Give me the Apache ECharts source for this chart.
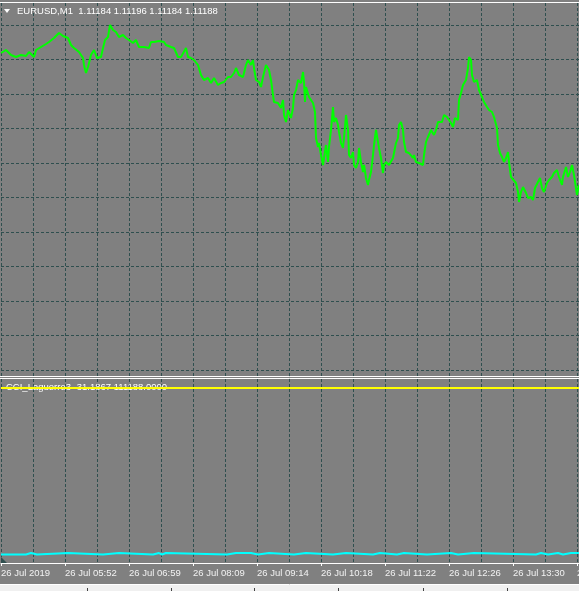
<!DOCTYPE html>
<html>
<head>
<meta charset="utf-8">
<script src="https://cdn.jsdelivr.net/npm/echarts@6/dist/echarts.min.js"></script>
<style>
html,body{margin:0;padding:0;background:#808080;}
#c{width:579px;height:591px;}
</style>
</head>
<body>
<div id="c"></div>
<script>
// ---- data (bar index from left edge, price) ----
var barIdx = [0,2,5,7,10,15,20,25,28,30,33,35,40,45,48,53,58,62,67,70,73,78,82,83,85,87,90,93,96,98,100,102,104,107,109,112,115,118,122,125,128,132,135,138,143,145,148,150,153,158,163,165,170,173,177,180,185,187,190,193,197,200,203,207,210,213,217,220,223,227,230,233,235,238,242,245,247,250,252,253,255,258,260,262,265,268,270,272,273,277,280,282,283,285,287,290,292,293,295,297,298,300,302,303,304,305,308,312,314,315,317,318,320,322,323,325,327,328,330,332,333,335,337,338,340,342,343,345,347,348,350,352,353,355,357,358,360,362,363,365,367,368,370,372,373,375,377,378,380,382,383,385,388,392,395,397,398,400,402,403,405,408,412,413,415,418,422,423,425,427,430,433,435,437,441,443,446,448,450,452,454,457,458,460,462,465,467,468,470,471,473,476,478,481,483,486,488,491,493,496,497,499,501,503,505,507,508,510,512,515,517,518,520,522,525,527,530,532,534,537,539,541,543,546,548,551,553,556,558,561,562,565,567,569,571,573,576,578];
var closePrice = [1.11338,1.11336,1.11341,1.11343,1.11336,1.11334,1.11336,1.11335,1.11339,1.11337,1.11334,1.11341,1.11344,1.11347,1.11349,1.11353,1.11358,1.11355,1.11353,1.11346,1.11343,1.11339,1.11333,1.11326,1.11318,1.11324,1.11336,1.11341,1.11333,1.11331,1.11334,1.11343,1.11351,1.11354,1.11366,1.11361,1.11359,1.11354,1.11356,1.11353,1.11351,1.11348,1.11351,1.11344,1.11344,1.11344,1.11343,1.11349,1.11349,1.11350,1.11349,1.11346,1.11344,1.11343,1.11334,1.11334,1.11343,1.11334,1.11333,1.11331,1.11326,1.11316,1.11311,1.11313,1.11308,1.11313,1.11306,1.11308,1.11309,1.11314,1.11314,1.11318,1.11323,1.11316,1.11314,1.11326,1.11331,1.11326,1.11331,1.11323,1.11311,1.11309,1.11304,1.11314,1.11326,1.11321,1.11311,1.11296,1.11289,1.11288,1.11283,1.11291,1.11276,1.11269,1.11281,1.11273,1.11283,1.11296,1.11301,1.11311,1.11313,1.11308,1.11319,1.11309,1.11289,1.11304,1.11294,1.11288,1.11279,1.11253,1.11244,1.11248,1.11236,1.11226,1.11233,1.11246,1.11229,1.11244,1.11261,1.11284,1.11269,1.11273,1.11266,1.11259,1.11248,1.11243,1.11253,1.11276,1.11261,1.11236,1.11233,1.11239,1.11226,1.11223,1.11229,1.11243,1.11229,1.11219,1.11226,1.11213,1.11206,1.11211,1.11219,1.11236,1.11246,1.11261,1.11259,1.11243,1.11233,1.11218,1.11226,1.11229,1.11226,1.11233,1.11248,1.11253,1.11266,1.11269,1.11261,1.11249,1.11239,1.11238,1.11233,1.11236,1.11229,1.11228,1.11226,1.11236,1.11249,1.11254,1.11261,1.11256,1.11261,1.11269,1.11269,1.11276,1.11274,1.11276,1.11268,1.11264,1.11273,1.11271,1.11291,1.11298,1.11306,1.11311,1.11323,1.11334,1.11331,1.11316,1.11309,1.11311,1.11301,1.11294,1.11289,1.11284,1.11281,1.11279,1.11274,1.11263,1.11246,1.11238,1.11234,1.11229,1.11233,1.11239,1.11229,1.11214,1.11213,1.11208,1.11199,1.11189,1.11199,1.11204,1.11198,1.11193,1.11194,1.11191,1.11203,1.11209,1.11213,1.11203,1.11199,1.11208,1.11211,1.11214,1.11218,1.11221,1.11214,1.11206,1.11214,1.11224,1.11214,1.11219,1.11226,1.11216,1.11196,1.11206];
var hLinePrice = 1.11092;

var laguerreIdx = [0, 578];
var laguerreVal = [111188, 111188];

var cciIdx = [0,25,26,30,31,36,37,67,68,102,103,118,119,152,153,158,159,161,162,165,166,226,227,235,236,237,240,241,242,243,250,251,257,258,268,269,293,294,305,306,332,333,345,346,372,373,379,380,396,397,403,404,426,427,450,451,457,458,473,474,535,536,540,541,547,548,557,558,562,563,570,571,572,573,578];
var cciVal = [-31,-31,950,950,-31,-31,950,950,-31,-31,950,950,-31,-31,950,950,-31,-31,950,950,-31,-31,950,950,-31,950,950,-31,-31,950,950,-31,-31,950,950,-31,-31,950,950,-31,-31,950,950,-31,-31,950,950,-31,-31,950,950,-31,-31,950,950,-31,-31,950,950,-31,-31,950,950,-31,-31,950,950,-31,-31,950,950,-31,-31,950,950];

var tickLabels = ['26 Jul 2019','26 Jul 05:52','26 Jul 06:59','26 Jul 08:09','26 Jul 09:14','26 Jul 10:18','26 Jul 11:22','26 Jul 12:26','26 Jul 13:30','26 Jul 14:34'];
var headerText = 'EURUSD,M1  1.11184 1.11196 1.11184 1.11188';
var indicatorText = 'CCI_Laguerre3 -31.1867 111188.0000';

function zip(a, b) { var r = []; for (var i = 0; i < a.length; i++) r.push([a[i], b[i]]); return r; }

var GRID = '#2f4f4f';
var FONT = '"Liberation Sans", Arial, sans-serif';
var chart = echarts.init(document.getElementById('c'), null, {renderer: 'canvas'});

chart.setOption({
  backgroundColor: '#808080',
  animation: false,
  grid: [
    {left: 1, right: 0, top: 25, height: 345, outerBoundsMode: 'none', containLabel: false},
    {left: 1, right: 0, top: 379, height: 184, outerBoundsMode: 'none', containLabel: false},
    {left: 1, right: 0, top: 3, height: 373, outerBoundsMode: 'none', containLabel: false}
  ],
  xAxis: [
    {gridIndex: 0, type: 'value', min: 0, max: 578, interval: 32, show: true,
      axisLine: {show: false}, axisTick: {show: false}, axisLabel: {show: false}, splitLine: {show: false}},
    {gridIndex: 1, type: 'value', min: 0, max: 578, interval: 64,
      axisLine: {show: true, onZero: false, lineStyle: {color: '#ffffff', width: 1}},
      axisTick: {show: true, length: 3, lineStyle: {color: '#ffffff'}},
      axisLabel: {show: true, color: '#f2f2f2', fontSize: 9.5, fontFamily: FONT, align: 'left', margin: 4, lineHeight: 12,
        showMaxLabel: true, showMinLabel: true, hideOverlap: false,
        formatter: function (v) { var k = Math.round(v / 64); return (v % 64 === 0 && k < tickLabels.length) ? tickLabels[k] : ''; }},
      splitLine: {show: true, lineStyle: {color: GRID, type: [3, 2], width: 1}},
      minorTick: {show: false, splitNumber: 2},
      minorSplitLine: {show: true, lineStyle: {color: GRID, type: [3, 2], width: 1}}},
    {gridIndex: 2, type: 'value', min: 0, max: 578, interval: 32,
      axisLine: {show: false}, axisTick: {show: false}, axisLabel: {show: false},
      splitLine: {show: true, lineStyle: {color: GRID, type: [3, 2], width: 1}}}
  ],
  yAxis: [
    {gridIndex: 0, type: 'value', min: 1.11021, max: 1.11366, interval: 0.000345,
      axisLine: {show: false}, axisTick: {show: false}, axisLabel: {show: false},
      splitLine: {show: true, lineStyle: {color: GRID, type: [3, 2], width: 1}}},
    {gridIndex: 1, type: 'value', min: -5700, max: 117200,
      axisLine: {show: false}, axisTick: {show: false}, axisLabel: {show: false}, splitLine: {show: false}},
    {gridIndex: 2, type: 'value', min: 0, max: 1,
      axisLine: {show: false}, axisTick: {show: false}, axisLabel: {show: false}, splitLine: {show: false}}
  ],
  series: [
    {type: 'line', xAxisIndex: 0, yAxisIndex: 0, data: zip(barIdx, closePrice), showSymbol: false, clip: false, z: 3,
      lineStyle: {color: '#00ff00', width: 2}, silent: true,
      markLine: {silent: true, symbol: 'none', label: {show: false}, lineStyle: {color: GRID, type: 'solid', width: 1},
        data: [{yAxis: hLinePrice}]}},
    {type: 'line', xAxisIndex: 1, yAxisIndex: 1, data: zip(laguerreIdx, laguerreVal), showSymbol: false, z: 3,
      lineStyle: {color: '#ffff00', width: 2}, silent: true},
    {type: 'line', xAxisIndex: 1, yAxisIndex: 1, data: zip(cciIdx, cciVal), showSymbol: false, z: 3,
      lineStyle: {color: '#00ffff', width: 2}, silent: true}
  ],
  graphic: [
    {type: 'line', shape: {x1: 0, y1: 2.5, x2: 579, y2: 2.5}, style: {stroke: '#ffffff', lineWidth: 1}, z: 5},
    {type: 'line', shape: {x1: 0, y1: 376.5, x2: 579, y2: 376.5}, style: {stroke: '#ffffff', lineWidth: 1}, z: 5},
    {type: 'line', shape: {x1: 0, y1: 378.5, x2: 579, y2: 378.5}, style: {stroke: '#ffffff', lineWidth: 1}, z: 5},
    {type: 'polygon', shape: {points: [[4, 9], [10, 9], [7, 13]]}, style: {fill: '#ffffff'}, z: 5},
    {type: 'text', x: 17, y: 11, z: 5, style: {text: headerText, fill: '#ffffff', font: '9.5px ' + FONT, verticalAlign: 'middle'}},
    {type: 'text', x: 6, y: 387, z: 1, style: {text: indicatorText, fill: '#ffffff', font: '9.5px ' + FONT, verticalAlign: 'middle'}},
    {type: 'polygon', shape: {points: [[1, 557], [1, 563], [7, 563]]}, style: {fill: '#2f4f4f'}, z: 5},
    {type: 'rect', shape: {x: 0, y: 585, width: 579, height: 6}, style: {fill: '#f0f0f0'}, z: 5},
    {type: 'line', shape: {x1: 0, y1: 584.5, x2: 579, y2: 584.5}, style: {stroke: '#ffffff', lineWidth: 1}, z: 5},
    {type: 'line', shape: {x1: 87.5, y1: 588, x2: 87.5, y2: 591}, style: {stroke: '#404040', lineWidth: 1}, z: 6},
    {type: 'line', shape: {x1: 171.5, y1: 588, x2: 171.5, y2: 591}, style: {stroke: '#404040', lineWidth: 1}, z: 6},
    {type: 'line', shape: {x1: 254.5, y1: 588, x2: 254.5, y2: 591}, style: {stroke: '#404040', lineWidth: 1}, z: 6},
    {type: 'line', shape: {x1: 338.5, y1: 588, x2: 338.5, y2: 591}, style: {stroke: '#404040', lineWidth: 1}, z: 6},
    {type: 'line', shape: {x1: 423.5, y1: 588, x2: 423.5, y2: 591}, style: {stroke: '#404040', lineWidth: 1}, z: 6},
    {type: 'line', shape: {x1: 507.5, y1: 588, x2: 507.5, y2: 591}, style: {stroke: '#404040', lineWidth: 1}, z: 6}
  ]
});
</script>
</body>
</html>
